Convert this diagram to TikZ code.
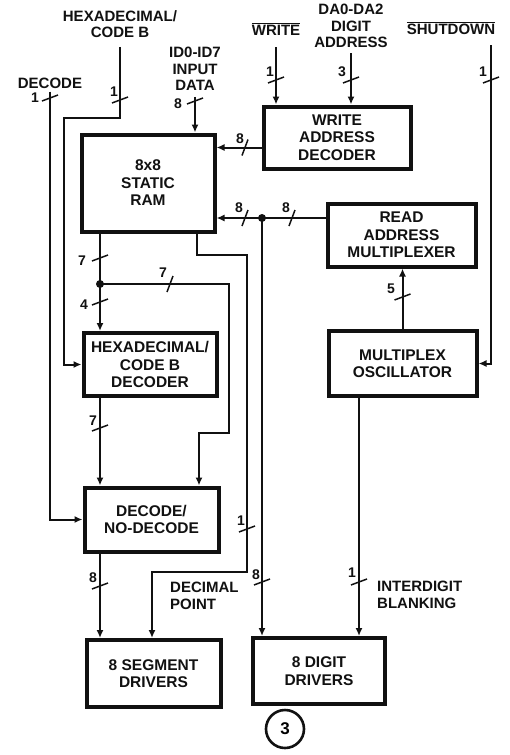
\documentclass[tikz,border=0pt]{standalone}
\usepackage{fontspec}
\setmainfont{Liberation Sans}
\usepackage{tikz}
\usetikzlibrary{arrows.meta,positioning,calc}
\definecolor{ink}{HTML}{111111}
\newcommand{\blkfont}{\fontsize{15.5}{17.5}\selectfont\bfseries}
\newcommand{\lblfont}{\fontsize{15}{16.5}\selectfont\bfseries}
\newcommand{\numfont}{\fontsize{14}{14}\selectfont\bfseries}

\begin{document}
\begin{tikzpicture}[x=1pt, y=-1pt,
  blk/.style={draw=ink, line width=4pt, fill=white, align=center, font=\blkfont, text=ink, inner sep=2pt, minimum width=133pt, minimum height=64pt},
  lbl/.style={font=\lblfont, align=center, inner sep=0pt, text=ink},
  num/.style={font=\numfont, inner sep=0pt, text=ink},
  bus/.style={draw=ink, line width=2pt},
  arr/.style={bus, -{Latex[length=8pt, width=7pt]}},
  tick/.style={draw=ink, line width=1.5pt},
  dot/.style={circle, fill=ink, inner sep=0pt, minimum size=8pt},
]
\fill[white] (0,0) rectangle (510,755);
\useasboundingbox (0,0) rectangle (510,755);
\node[blk, minimum height=97pt] (ram) at (148,183) {8x8\\STATIC\\RAM};
\node[blk, minimum width=147pt, minimum height=62pt] (wad) at (337,137.5) {WRITE\\ADDRESS\\DECODER};
\node[blk, minimum width=148pt, minimum height=63pt] (rmux) at (401.5,235) {READ\\ADDRESS\\MULTIPLEXER};
\node[blk, minimum width=148pt, minimum height=65pt, below=60.5pt of rmux, xshift=1pt] (osc) {MULTIPLEX\\OSCILLATOR};
\node[blk, minimum height=63pt, below=97.5pt of ram, xshift=2pt] (hexd) {HEXADECIMAL/\\CODE B\\DECODER};
\node[blk, minimum width=134pt, below=87.5pt of hexd, xshift=1.5pt] (dnd) {DECODE/\\NO-DECODE};
\node[blk, minimum width=134pt, minimum height=67pt, below=84.5pt of dnd, xshift=2pt] (seg) {8 SEGMENT\\DRIVERS};
\node[blk, minimum width=132pt, minimum height=66pt, right=28.5pt of seg, yshift=2.5pt] (dig) {8 DIGIT\\DRIVERS};
% inputs and outputs
\node[lbl] (hexlbl) at (120,24) {HEXADECIMAL/\\CODE B};
\node[lbl] (declbl) at (50,83) {DECODE};
\node[lbl] (datalbl) at (195,69) {ID0-ID7\\INPUT\\DATA};
\node[lbl] (wrlbl) at (276,29) {$\overline{\mbox{WRITE}}$};
\node[lbl] (dalbl) at (351,26) {DA0-DA2\\DIGIT\\ADDRESS};
\node[lbl] (sdlbl) at (451,28) {$\overline{\mbox{SHUTDOWN}}$};
\node[lbl, align=left, anchor=west] (dplbl) at (170,596) {DECIMAL\\POINT};
\node[lbl, align=left, anchor=west] (iblbl) at (377,595) {INTERDIGIT\\BLANKING};
\node[draw=ink, circle, line width=2.6pt, minimum size=38pt, inner sep=0pt, font=\fontsize{17}{17}\selectfont\bfseries] (fig) at (285,729) {3};
\coordinate (hexbend) at (64,118);
\coordinate (sdtop) at (491,45);
\coordinate (b7) at (229,433);
\coordinate (dpa) at (247,255);
\coordinate (dpb) at (152,572);
\node[dot] (jn) at (262,218) {};
\node[dot] (split) at (100,284) {};
\draw[arr] ([yshift=-3pt]declbl.south) |- (dnd.west);
\draw[arr] ([yshift=-9pt]hexlbl.south) |- (hexbend) |- (hexd.west);
\draw[arr] ([yshift=-6pt]datalbl.south) -- (datalbl.south |- ram.north);
\draw[arr] ([yshift=-12pt]wrlbl.south) -- (wrlbl.south |- wad.north);
\draw[arr] ([yshift=-5pt]dalbl.south) -- (dalbl.south |- wad.north);
\draw[arr] (sdtop) |- (osc.east);
\draw[arr] ([yshift=-10pt]wad.west) -- ([yshift=-10pt]wad.west -| ram.east);
\draw[arr] ([yshift=17pt]rmux.west) -- ([yshift=17pt]rmux.west -| ram.east);
\draw[arr] (jn.center) -- (jn.center |- dig.north);
\draw[bus] (split |- ram.south) -- (split.center);
\draw[arr] (split.center) -- (split |- hexd.north);
\draw[arr] (split.center) -| (b7) -| ([xshift=47.5pt]dnd.north);
\draw[arr] (split |- hexd.south) -- (split |- dnd.north);
\draw[arr] ([xshift=49pt]ram.south) |- (dpa) |- (dpb) -- (dpb |- seg.north);
\draw[arr] (split |- dnd.south) -- (split |- seg.north);
\draw[arr] ([xshift=-43.5pt]osc.south) -- ([xshift=-43.5pt]osc.south |- dig.north);
\draw[arr] (osc.north) -- (osc.north |- rmux.south);
% bus widths
\foreach \nm/\px/\py/\w/\lx/\ly in {a/50/98/1/35/98, b/120/100/1/114/92, c/195/101/8/178/104, d/276/80/1/270/72, e/351/80/3/342/72, f/491/80/1/483/72, g/100/258/7/82/261, h/100/302/4/84/305, i/100/428/7/93/421, j/402.5/297/5/391/289, k/247/529/1/241/521, l/100/586/8/93/578, m/262/582/8/256/575, n/359/582/1/352/573}{
  \draw[tick] (\px-8,\py+3) -- (\px+8,\py-3);
  \node[num] (w\nm) at (\lx,\ly) {\w};
}
\foreach \nm/\px/\py/\w/\lx/\ly in {p/245/147.5/8/240/139, q/245/218/8/239/208, r/292/218/8/286/208, s/170/284/7/163/273}{
  \draw[tick] (\px-3,\py+8) -- (\px+3,\py-8);
  \node[num] (w\nm) at (\lx,\ly) {\w};
}
\end{tikzpicture}
\end{document}
